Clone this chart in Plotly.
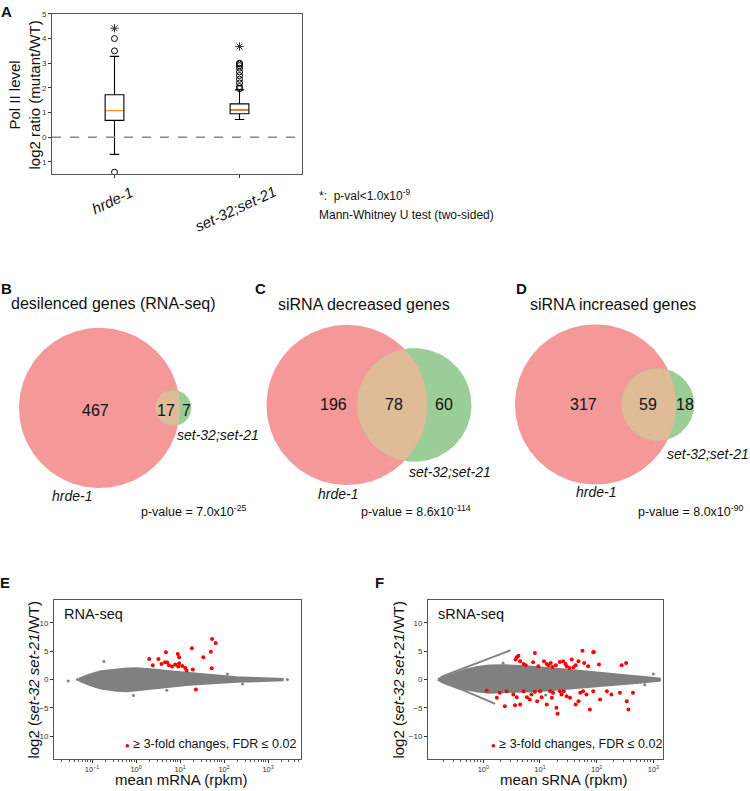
import numpy as np
import plotly.graph_objects as go

W, H = 750, 791
FONT = "Liberation Sans, Arial, sans-serif"

# ---------------- Panel A data (box plot) ----------------
box_labels = ["hrde-1", "set-32;set-21"]
box_pos = [1, 2]
box_q1 = [0.68, 0.95]
box_median = [1.08, 1.10]
box_q3 = [1.72, 1.35]
box_lowerfence = [-0.70, 0.72]
box_upperfence = [3.28, 1.92]
hrde1_outliers = [4.0, 3.5, -1.42]
set_outliers = [1.97, 2.05, 2.2, 2.35, 2.5, 2.65, 2.8, 2.9, 2.97, 3.0]
signif_y = [4.42, 3.68]
a_yticks = [-1, 0, 1, 2, 3, 4, 5]

# ---------------- Panels B-D data (Venn) ----------------
venn_titles = ["desilenced genes (RNA-seq)", "siRNA decreased genes", "siRNA increased genes"]
venn_letters = ["B", "C", "D"]
venn_only_hrde = [467, 196, 317]
venn_both = [17, 78, 59]
venn_only_set = [7, 60, 18]
venn_pvalues = ["7.0x10<sup>-25</sup>", "8.6x10<sup>-114</sup>", "8.0x10<sup>-90</sup>"]

# ---------------- Panel E data (RNA-seq MA plot) ----------------
e_env_log10 = [-1.30, -1.20, -1.05, -0.80, -0.44, -0.20, 0.00, 0.25, 0.47, 0.70, 0.92,
               1.15, 1.38, 1.60, 1.83, 2.29, 2.74, 3.10, 3.34]
e_env_up = [0.2, 0.55, 0.95, 1.5, 1.85, 2.0, 2.05, 1.95, 1.75, 1.55, 1.4,
            1.2, 1.0, 0.8, 0.65, 0.45, 0.33, 0.25, 0.15]
e_env_lo = [-0.2, -0.6, -1.0, -1.6, -2.0, -2.1, -2.0, -1.8, -1.6, -1.4, -1.2,
            -1.0, -0.85, -0.7, -0.6, -0.45, -0.33, -0.25, -0.15]
e_gray_log10 = [-1.54, -1.33, -0.73, -0.06, 0.70, 2.08, 2.42, 3.44]
e_gray_y = [-0.25, 0.0, 3.16, -2.8, -1.9, 1.0, -0.76, 0.0]
e_red_log10 = [0.30, 0.38, 0.51, 0.58, 0.66, 0.68, 0.71, 0.75, 0.82, 0.89, 0.95, 0.96, 0.98,
               0.98, 1.05, 1.12, 1.15, 1.27, 1.29, 1.36, 1.53, 1.70, 1.72, 1.73, 1.81]
e_red_y = [3.63, 2.51, 3.63, 2.75, 3.04, 4.80, 2.98, 2.51, 2.28, 2.63, 4.50, 2.28, 3.92,
           2.87, 2.40, 2.05, 1.58, 5.50, 1.75, -1.75, 3.92, 4.91, 1.99, 7.13, 6.43]

# ---------------- Panel F data (sRNA-seq MA plot) ----------------
f_env_log10 = [-0.78, -0.60, -0.45, -0.30, -0.10, 0.10, 0.40, 0.76, 1.00, 1.23, 1.50, 1.70,
               1.95, 2.17, 2.40, 2.64, 2.85, 3.00, 3.12]
f_env_up = [0.1, 0.8, 1.3, 1.8, 2.25, 2.5, 2.55, 2.4, 2.25, 2.0, 1.75, 1.55,
            1.25, 1.05, 0.85, 0.65, 0.5, 0.38, 0.22]
f_env_lo = [-0.1, -0.75, -1.25, -1.75, -2.15, -2.35, -2.3, -2.15, -2.05, -1.9, -1.7, -1.5,
            -1.25, -1.1, -0.9, -0.68, -0.5, -0.38, -0.22]
f_wing_up_log10 = [-0.80, -0.72, -0.62, -0.53, -0.38, -0.24, -0.09, 0.06, 0.27, 0.48]
f_wing_up_y = [0.0, 0.55, 0.95, 1.29, 1.85, 2.34, 2.9, 3.5, 4.3, 5.15]
f_wing_lo_log10 = [-0.80, -0.72, -0.62, -0.53, -0.38, -0.24, -0.09, 0.06, 0.21]
f_wing_lo_y = [0.0, -0.5, -0.9, -1.17, -1.75, -2.34, -2.95, -3.57, -4.27]
f_gray_log10 = [3.0, 2.85, 0.35, 1.10]
f_gray_y = [1.0, -0.9, 2.9, -2.7]
f_red_log10 = [0.59, 0.57, 0.62, 0.65, 0.71, 0.75, 0.91, 0.88, 0.97, 1.07, 1.12, 1.15, 1.19,
               1.22, 1.28, 1.35, 1.41, 1.45, 1.47, 1.52, 1.56, 1.59, 1.63, 1.68, 1.75, 1.78,
               1.85, 1.94, 2.04, 2.44, 2.52, 1.95,
               0.06, 0.24, 0.38, 0.29, 0.41, 0.53, 0.59, 0.65, 0.71, 0.77, 0.82, 0.85, 0.91,
               0.95, 1.00, 1.03, 1.12, 1.18, 1.21, 1.23, 1.29, 1.31, 1.35, 1.38, 1.42, 1.47,
               1.53, 1.63, 1.68, 1.71, 1.76, 1.82, 1.88, 1.94, 2.06, 2.18, 2.26, 2.41, 2.53,
               2.56, 2.64, 0.56]
f_red_y = [3.92, 3.51, 4.21, 3.22, 2.75, 2.51, 4.68, 3.04, 2.34, 3.22, 2.75, 2.51, 2.92,
           2.22, 2.51, 3.10, 3.22, 2.75, 2.34, 2.05, 3.51, 2.16, 2.51, 3.22, 5.09, 2.92,
           2.34, 4.80, 2.63, 2.51, 2.92, 4.85,
           -1.93, -3.22, -4.68, -2.34, -2.05, -2.63, -3.10, -4.39, -2.05, -3.10, -3.51, -2.63, -2.16,
           -3.80, -2.05, -3.10, -4.39, -2.05, -3.22, -2.34, -4.97, -6.02, -2.05, -2.63, -2.05, -2.92,
           -3.22, -4.39, -3.80, -2.34, -2.05, -2.63, -5.26, -2.05, -3.51, -2.05, -2.63, -2.34, -3.80,
           -5.26, -2.34, -4.5]

ma_yticks = [-10, -5, 0, 5, 10]
log_ticks = [0.1, 1, 10, 100, 1000]
log_ticktext = ["10<sup>−1</sup>", "10<sup>0</sup>", "10<sup>1</sup>", "10<sup>2</sup>", "10<sup>3</sup>"]

# ---------------- helpers ----------------
def pxx(x):
    return x / W

def pxy(y):
    return 1 - y / H

RED = "#F4989A"
GREEN = "#9ACD98"
TAN = "#DFBB98"
GRAY = "#808080"

fig = go.Figure()
annotations = []

def ann(x, y, text, size, xanchor="center", yanchor="middle", angle=0, color="#111", bold=False):
    if bold:
        text = "<b>" + text + "</b>"
    annotations.append(dict(x=pxx(x), y=pxy(y), xref="paper", yref="paper", text=text,
                            showarrow=False, xanchor=xanchor, yanchor=yanchor, textangle=angle,
                            font=dict(size=size, color=color, family=FONT)))

# ================= Panel A =================
box_width = 0.15
for i in range(2):
    fig.add_trace(go.Box(x=[box_pos[i]], q1=[box_q1[i]], median=[box_median[i]], q3=[box_q3[i]],
                         lowerfence=[box_lowerfence[i]], upperfence=[box_upperfence[i]],
                         width=box_width, whiskerwidth=0.5, boxpoints=False,
                         fillcolor="white", line=dict(color="black", width=1.1),
                         xaxis="x", yaxis="y", hoverinfo="skip"))
    fig.add_trace(go.Scatter(x=[box_pos[i] - box_width / 2 + 0.005, box_pos[i] + box_width / 2 - 0.005],
                             y=[box_median[i], box_median[i]], mode="lines",
                             line=dict(color="#FF8C1A", width=1.2), xaxis="x", yaxis="y"))
fig.add_trace(go.Scatter(x=[box_pos[0]] * len(hrde1_outliers) + [box_pos[1]] * len(set_outliers),
                         y=hrde1_outliers + set_outliers, mode="markers",
                         marker=dict(symbol="circle-open", size=6, color="black", line=dict(width=1)),
                         xaxis="x", yaxis="y"))
fig.add_trace(go.Scatter(x=box_pos, y=signif_y, mode="markers",
                         marker=dict(symbol="asterisk-open", size=7, color="#333", line=dict(width=1)),
                         xaxis="x", yaxis="y"))

axis_line = dict(showline=True, mirror=True, linecolor="#555", linewidth=1)
layout_axes = {}
layout_axes["xaxis"] = dict(domain=[pxx(52), pxx(302)], range=[0.5, 2.5], tickvals=box_pos,
                            showticklabels=False, ticks="outside", ticklen=3, tickcolor="#333",
                            showgrid=False, zeroline=False, anchor="y", **axis_line)
layout_axes["yaxis"] = dict(domain=[pxy(171), pxy(10)], range=[-1.5, 5], tickvals=a_yticks,
                            ticks="outside", ticklen=3, tickcolor="#333", showgrid=False,
                            zeroline=False, anchor="x", tickfont=dict(size=8, color="#333", family=FONT),
                            **axis_line)
shapes = [dict(type="line", xref="x domain", yref="y", x0=0, x1=1, y0=0, y1=0,
               line=dict(color="#888", width=1.5, dash="dash"))]

ann(6, 8, "A", 15, bold=True)
ann(15, 92, "Pol II level", 15, angle=-90)
ann(35, 92, "log2 ratio (mutant/WT)", 15, angle=-90)
ann(112, 198, "<i>hrde-1</i>", 15, angle=-25)
ann(236, 206, "<i>set-32;set-21</i>", 15, angle=-25)
ann(317, 192, "*:  p-val<1.0x10<sup>-9</sup>", 12, xanchor="left")
ann(317, 212, "Mann-Whitney U test (two-sided)", 12, xanchor="left")

# ================= Panels B-D (Venn) =================
def lens_area(r1, r2, d):
    if d >= r1 + r2:
        return 0.0
    if d <= abs(r1 - r2):
        return np.pi * min(r1, r2) ** 2
    a1 = r1 ** 2 * np.arccos((d * d + r1 * r1 - r2 * r2) / (2 * d * r1))
    a2 = r2 ** 2 * np.arccos((d * d + r2 * r2 - r1 * r1) / (2 * d * r2))
    a3 = 0.5 * np.sqrt((-d + r1 + r2) * (d + r1 - r2) * (d - r1 + r2) * (d + r1 + r2))
    return a1 + a2 - a3

def solve_d(r1, r2, target):
    lo, hi = abs(r1 - r2) + 1e-9, r1 + r2
    for _ in range(200):
        mid = (lo + hi) / 2
        if lens_area(r1, r2, mid) > target:
            lo = mid
        else:
            hi = mid
    return (lo + hi) / 2

S = 80.5  # pixels per unit (red radius = 1 unit)
venn_centers_px = [(99.5, 406), (347, 403), (595.5, 402.5)]
venn_label_px = [
    [(95, 409), (166, 409), (186, 409)],
    [(333, 403), (394, 403), (444, 403)],
    [(583, 403), (648, 403), (685, 403)],
]
venn_set_label_px = [(175, 433), (407, 470), (665, 452)]
venn_hrde_label_px = [(50, 495), (316, 492), (574, 490)]
venn_p_px = [(139, 510), (359, 510), (636, 510)]
venn_title_px = [(113, 301), (364, 302), (613, 302)]
venn_letter_px = [(6, 286), (260, 286), (521, 286)]

theta = np.linspace(0, 2 * np.pi, 241)
for k in range(3):
    ax = k + 2
    xa, ya = f"x{ax}", f"y{ax}"
    n_red = venn_only_hrde[k] + venn_both[k]
    n_green = venn_only_set[k] + venn_both[k]
    r1 = 1.0
    r2 = np.sqrt(n_green / n_red)
    target = np.pi * venn_both[k] / n_red
    d = solve_d(r1, r2, target)
    fig.add_trace(go.Scatter(x=r1 * np.cos(theta), y=r1 * np.sin(theta), fill="toself",
                             fillcolor=RED, mode="lines", line=dict(width=0, color=RED),
                             xaxis=xa, yaxis=ya, hoverinfo="skip"))
    fig.add_trace(go.Scatter(x=d + r2 * np.cos(theta), y=r2 * np.sin(theta), fill="toself",
                             fillcolor=GREEN, mode="lines", line=dict(width=0, color=GREEN),
                             xaxis=xa, yaxis=ya, hoverinfo="skip"))
    xi = (d * d + r1 * r1 - r2 * r2) / (2 * d)
    hh = np.sqrt(max(r1 * r1 - xi * xi, 0))
    t1 = np.arctan2(hh, xi)
    t2 = np.arctan2(hh, d - xi)
    a1 = np.linspace(-t1, t1, 120)
    a2 = np.linspace(np.pi - t2, np.pi + t2, 120)
    lx = np.concatenate([r1 * np.cos(a1), d + r2 * np.cos(a2)])
    ly = np.concatenate([r1 * np.sin(a1), r2 * np.sin(a2)])
    fig.add_trace(go.Scatter(x=lx, y=ly, fill="toself", fillcolor=TAN, mode="lines",
                             line=dict(width=0, color=TAN), xaxis=xa, yaxis=ya, hoverinfo="skip"))
    cx, cy = venn_centers_px[k]
    x0, x1 = cx - 95, min(cx + 150, W)
    y0, y1 = cy - 95, cy + 95
    layout_axes[f"xaxis{ax}"] = dict(domain=[pxx(x0), pxx(x1)], range=[(x0 - cx) / S, (x1 - cx) / S],
                                     visible=False, anchor=ya)
    layout_axes[f"yaxis{ax}"] = dict(domain=[pxy(y1), pxy(y0)], range=[(cy - y1) / S, (cy - y0) / S],
                                     visible=False, anchor=xa)
    counts = [venn_only_hrde[k], venn_both[k], venn_only_set[k]]
    for (lxp, lyp), c in zip(venn_label_px[k], counts):
        ann(lxp, lyp, str(c), 16)
    ann(venn_set_label_px[k][0], venn_set_label_px[k][1], "<i>set-32;set-21</i>", 14, xanchor="left")
    ann(venn_hrde_label_px[k][0], venn_hrde_label_px[k][1], "<i>hrde-1</i>", 14, xanchor="left")
    ann(venn_p_px[k][0], venn_p_px[k][1], "p-value = " + venn_pvalues[k], 12.5, xanchor="left")
    ann(venn_title_px[k][0], venn_title_px[k][1], venn_titles[k], 16)
    ann(venn_letter_px[k][0], venn_letter_px[k][1], venn_letters[k], 15, bold=True)

# ================= Panels E & F (MA plots) =================
def minor_vals(lo, hi):
    vals = []
    for dec in range(lo, hi + 1):
        for m in range(2, 10):
            vals.append(m * 10.0 ** dec)
    return vals

def ma_panel(ax, env_log, env_up, env_lo, gray_log, gray_y, red_log, red_y, xdom_px, xrange_log):
    xa, ya = f"x{ax}", f"y{ax}"
    ex = [10 ** v for v in env_log]
    fig.add_trace(go.Scatter(x=ex + ex[::-1], y=list(env_up) + list(env_lo)[::-1], fill="toself",
                             fillcolor=GRAY, mode="lines", line=dict(width=1.5, color=GRAY),
                             xaxis=xa, yaxis=ya, hoverinfo="skip"))
    fig.add_trace(go.Scatter(x=[10 ** v for v in gray_log], y=gray_y, mode="markers",
                             marker=dict(size=3, color=GRAY), xaxis=xa, yaxis=ya))
    fig.add_trace(go.Scatter(x=[10 ** v for v in red_log], y=red_y, mode="markers",
                             marker=dict(size=4, color="#FF0000"), xaxis=xa, yaxis=ya))
    layout_axes[f"xaxis{ax}"] = dict(domain=[pxx(xdom_px[0]), pxx(xdom_px[1])], type="log",
                                     range=xrange_log, tickvals=log_ticks, ticktext=log_ticktext,
                                     ticks="outside", ticklen=3, tickcolor="#333",
                                     minor=dict(tickvals=minor_vals(-2, 3), ticks="outside", ticklen=2,
                                                tickcolor="#555", showgrid=False),
                                     tickfont=dict(size=7.5, color="#333", family=FONT),
                                     showgrid=False, zeroline=False, anchor=ya, **axis_line)
    layout_axes[f"yaxis{ax}"] = dict(domain=[pxy(759), pxy(599)], range=[-14, 14], tickvals=ma_yticks,
                                     ticks="outside", ticklen=3, tickcolor="#333",
                                     tickfont=dict(size=8, color="#333", family=FONT),
                                     showgrid=False, zeroline=False, anchor=xa, **axis_line)

ma_panel(5, e_env_log10, e_env_up, e_env_lo, e_gray_log10, e_gray_y, e_red_log10, e_red_y,
         (54, 301), [-1.864, 3.75])

# F: wings first so the cloud sits on top
for wl, wy in [(f_wing_up_log10, f_wing_up_y), (f_wing_lo_log10, f_wing_lo_y)]:
    fig.add_trace(go.Scatter(x=[10 ** v for v in wl], y=wy, mode="lines",
                             line=dict(color=GRAY, width=2), xaxis="x6", yaxis="y6"))
ma_panel(6, f_env_log10, f_env_up, f_env_lo, f_gray_log10, f_gray_y, f_red_log10, f_red_y,
         (428, 663), [-0.975, 3.17])

legend_text = ('<span style="color:#FF0000;font-size:8px">●</span> '
               '≥ 3-fold changes, FDR ≤ 0.02')
ann(5, 581, "E", 15, bold=True)
ann(379, 581, "F", 15, bold=True)
ann(62, 613, "RNA-seq", 14.5, xanchor="left")
ann(436, 613, "sRNA-seq", 14.5, xanchor="left")
ann(298, 744, legend_text, 12.5, xanchor="right")
ann(664, 744, legend_text, 12.5, xanchor="right")
ann(34, 679, "log2 (<i>set-32 set-21</i>/WT)", 15, angle=-90)
ann(399, 679, "log2 (<i>set-32 set-21</i>/WT)", 15, angle=-90)
ann(181, 790, "mean mRNA (rpkm)", 15, yanchor="bottom")
ann(564, 790, "mean sRNA (rpkm)", 15, yanchor="bottom")

fig.update_layout(width=W, height=H, margin=dict(l=0, r=0, t=0, b=0),
                  paper_bgcolor="white", plot_bgcolor="white", showlegend=False,
                  font=dict(family=FONT, color="#111"),
                  annotations=annotations, shapes=shapes, **layout_axes)

fig.write_html("out.html", config={"displayModeBar": False},
               post_script="document.body.style.margin='0';document.body.style.overflow='hidden';")
